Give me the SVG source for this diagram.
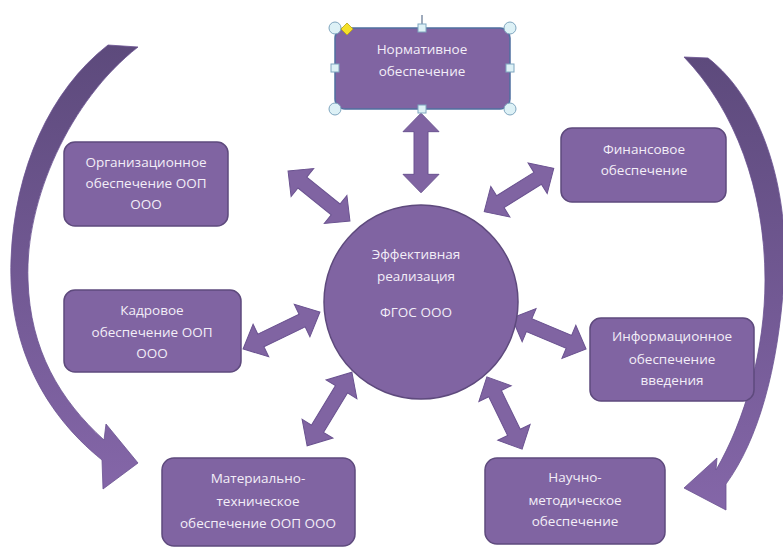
<svg xmlns="http://www.w3.org/2000/svg" xmlns:xlink="http://www.w3.org/1999/xlink" width="783" height="550" viewBox="0 0 783 550">
<style>
.box{fill:#8064A2;stroke:#5E4A7D;stroke-width:1.5}
.t{font-family:"Open Sans","Liberation Sans",sans-serif;font-size:13.5px;fill:#F3EEF8;text-anchor:middle}
.dbl{fill:#8064A2;stroke:#6A5290;stroke-width:1}
.hc{fill:#DDF1F6;stroke:#7FA6BF;stroke-width:1}
</style>
<defs>
<path id="dbl" d="M-41 0 L-22 -18 L-22 -7 L22 -7 L22 -18 L41 0 L22 18 L22 7 L-22 7 L-22 18 Z"/>
<linearGradient id="gl" x1="0" y1="0" x2="0" y2="1">
<stop offset="0" stop-color="#5D4A7C"/><stop offset="1" stop-color="#8466A8"/>
</linearGradient>
</defs>
<rect width="783" height="550" fill="#FFFFFF"/>
<g id="connectors">
<path fill="url(#gl)" stroke="#6A5290" stroke-width="0.8" d="M108 45 L138 47 C70 100 25 200 28 280 C30 350 60 400 104 440 L106 424 L138 463 L103 489 L102 460 C40 410 8 340 11 260 C14 170 50 90 108 45 Z"/>
<path fill="url(#gl)" stroke="#6A5290" stroke-width="0.8" d="M684 57 L708 58 C762 100 790 190 784 280 C778 370 758 440 726 484 L726 510 L684 488 L717 458 L716 470 C745 420 765 350 765 280 C765 190 735 110 684 57 Z"/>
<use xlink:href="#dbl" class="dbl" transform="translate(421,153) rotate(90) scale(0.97,1)"/>
<use xlink:href="#dbl" class="dbl" transform="translate(319,196) rotate(38.9) scale(0.97,1)"/>
<use xlink:href="#dbl" class="dbl" transform="translate(519,190) rotate(-32) scale(1,1)"/>
<use xlink:href="#dbl" class="dbl" transform="translate(281.5,330.5) rotate(-25.7) scale(1.04,1)"/>
<use xlink:href="#dbl" class="dbl" transform="translate(549,333.5) rotate(22.7) scale(0.98,1)"/>
<use xlink:href="#dbl" class="dbl" transform="translate(329.5,409) rotate(-58.7) scale(1.05,1)"/>
<use xlink:href="#dbl" class="dbl" transform="translate(504.5,413) rotate(64) scale(0.98,1)"/>
</g>
<g id="center">
<circle cx="421" cy="302" r="97" class="box"/>
<text class="t" x="416" y="259">Эффективная</text>
<text class="t" x="416" y="281">реализация</text>
<text class="t" x="416" y="317">ФГОС ООО</text>
</g>
<g id="normative">
<line x1="422" y1="15" x2="422" y2="28" stroke="#7F8FA6" stroke-width="1.5"/>
<rect x="335" y="28" width="175" height="81" rx="10" fill="#8064A2" stroke="#4F6FA0" stroke-width="1.5"/>
<text class="t" x="422" y="54">Нормативное</text>
<text class="t" x="422" y="76">обеспечение</text>
<circle class="hc" cx="335" cy="28" r="6"/><circle class="hc" cx="510" cy="28" r="6"/>
<circle class="hc" cx="335" cy="109" r="6"/><circle class="hc" cx="510" cy="109" r="6"/>
<rect class="hc" x="418" y="24" width="8" height="8"/><rect class="hc" x="418" y="105" width="8" height="8"/>
<rect class="hc" x="331" y="64" width="8" height="8"/><rect class="hc" x="506" y="64" width="8" height="8"/>
<path d="M347 23 L353 29 L347 35 L341 29 Z" fill="#F5E02A" stroke="#B8A416" stroke-width="0.8"/>
</g>
<g id="org">
<rect x="64" y="142" width="164" height="84" rx="11" class="box"/>
<text class="t" x="146" y="167">Организационное</text>
<text class="t" x="146" y="188">обеспечение ООП</text>
<text class="t" x="146" y="209">ООО</text>
</g>
<g id="finance">
<rect x="561" y="128" width="165" height="74" rx="11" class="box"/>
<text class="t" x="644" y="154">Финансовое</text>
<text class="t" x="644" y="175">обеспечение</text>
</g>
<g id="staff">
<rect x="64" y="290" width="177" height="82" rx="11" class="box"/>
<text class="t" x="152" y="315">Кадровое</text>
<text class="t" x="152" y="337">обеспечение ООП</text>
<text class="t" x="152" y="358">ООО</text>
</g>
<g id="info">
<rect x="590" y="318" width="164" height="83" rx="11" class="box"/>
<text class="t" x="672" y="341">Информационное</text>
<text class="t" x="672" y="364">обеспечение</text>
<text class="t" x="672" y="385">введения</text>
</g>
<g id="material">
<rect x="162" y="458" width="193" height="88" rx="12" class="box"/>
<text class="t" x="258" y="483">Материально-</text>
<text class="t" x="258" y="506">техническое</text>
<text class="t" x="258" y="528">обеспечение ООП ООО</text>
</g>
<g id="science">
<rect x="485" y="458" width="180" height="86" rx="12" class="box"/>
<text class="t" x="575" y="482">Научно-</text>
<text class="t" x="575" y="505">методическое</text>
<text class="t" x="575" y="526">обеспечение</text>
</g>
</svg>
